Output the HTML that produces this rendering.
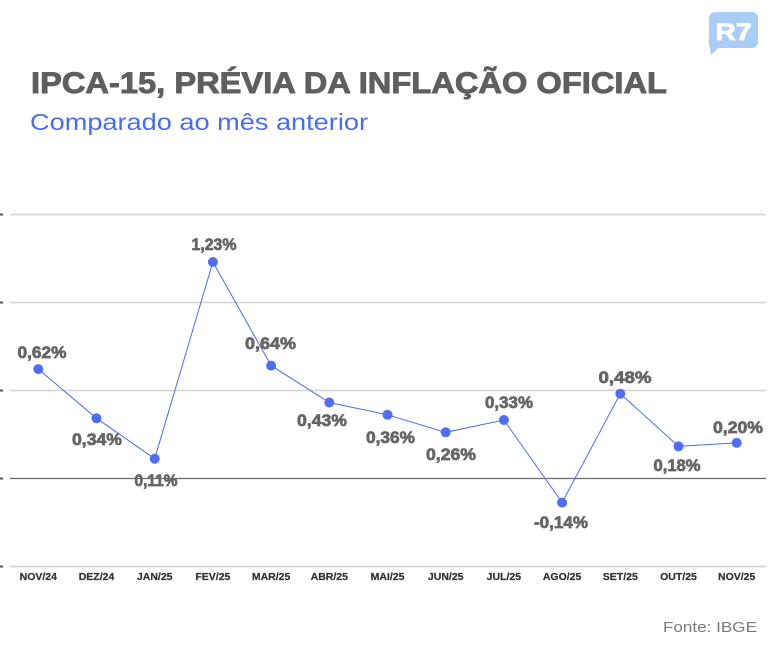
<!DOCTYPE html>
<html>
<head>
<meta charset="utf-8">
<style>
  html,body{margin:0;padding:0;background:#fff;}
  body{width:770px;height:650px;overflow:hidden;}
  svg{display:block;}
</style>
</head>
<body>
<svg width="770" height="650" viewBox="0 0 770 650" xmlns="http://www.w3.org/2000/svg">
  <rect width="770" height="650" fill="#ffffff"/>

  <!-- Logo -->
  <path d="M716 12 H751 Q758 12 758 19 V41 Q758 48 751 48 H718 L711 55 L710 48 Q709 47 709 41 V19 Q709 12 716 12 Z" fill="#a9cdf8"/>
  <text x="733.5" y="40" text-anchor="middle" font-family="Liberation Sans, sans-serif" font-weight="bold" font-size="24" fill="#ffffff" stroke="#ffffff" stroke-width="0.8" textLength="36" lengthAdjust="spacingAndGlyphs">R7</text>

  <!-- Title -->
  <text x="31" y="93" font-family="Liberation Sans, sans-serif" font-weight="bold" font-size="29.5" fill="#5f5f5f" stroke="#5f5f5f" stroke-width="0.9" textLength="636" lengthAdjust="spacingAndGlyphs">IPCA-15, PRÉVIA DA INFLAÇÃO OFICIAL</text>
  <text x="30" y="130" font-family="Liberation Sans, sans-serif" font-size="23" fill="#4a6cf0" textLength="338" lengthAdjust="spacingAndGlyphs">Comparado ao mês anterior</text>

  <!-- Gridlines -->
  <line x1="10" y1="214.5" x2="766" y2="214.5" stroke="#dcdcdc" stroke-width="2"/>
  <line x1="10" y1="302.5" x2="766" y2="302.5" stroke="#d2d2d2" stroke-width="1.5"/>
  <line x1="10" y1="390.5" x2="766" y2="390.5" stroke="#d2d2d2" stroke-width="1.5"/>
  <line x1="10" y1="478.5" x2="766" y2="478.5" stroke="#6a6a6a" stroke-width="1.2"/>
  <line x1="10" y1="566.5" x2="766" y2="566.5" stroke="#cfcfcf" stroke-width="1.5"/>

  <!-- left tick marks -->
  <rect x="0" y="213.5" width="3" height="2" fill="#555"/>
  <rect x="0" y="301.5" width="3" height="2" fill="#555"/>
  <rect x="0" y="389.5" width="3" height="2" fill="#555"/>
  <rect x="0" y="477.5" width="3" height="2" fill="#555"/>
  <rect x="0" y="565.5" width="3" height="2" fill="#555"/>

  <!-- Series line -->
  <polyline fill="none" stroke="#4a6cf0" stroke-width="1"
    points="38.3,369.1 96.5,418.3 154.7,458.7 212.9,262 271.1,365.6 329.3,402.5 387.5,414.8 445.7,432.3 503.9,420 562.1,502.6 620.3,393.7 678.5,446.4 736.7,442.9"/>

  <!-- Markers -->
  <g fill="#4f6ef7">
    <circle cx="38.3" cy="369.1" r="5"/>
    <circle cx="96.5" cy="418.3" r="5"/>
    <circle cx="154.7" cy="458.7" r="5"/>
    <circle cx="212.9" cy="262" r="5"/>
    <circle cx="271.1" cy="365.6" r="5"/>
    <circle cx="329.3" cy="402.5" r="5"/>
    <circle cx="387.5" cy="414.8" r="5"/>
    <circle cx="445.7" cy="432.3" r="5"/>
    <circle cx="503.9" cy="420" r="5"/>
    <circle cx="562.1" cy="502.6" r="5"/>
    <circle cx="620.3" cy="393.7" r="5"/>
    <circle cx="678.5" cy="446.4" r="5"/>
    <circle cx="736.7" cy="442.9" r="5"/>
  </g>

  <!-- Data labels -->
  <g font-family="Liberation Sans, sans-serif" font-weight="bold" font-size="16.5" fill="#666666" stroke="#666666" stroke-width="0.7" text-anchor="middle">
    <text x="42" y="358" textLength="49" lengthAdjust="spacingAndGlyphs">0,62%</text>
    <text x="97" y="445" textLength="50" lengthAdjust="spacingAndGlyphs">0,34%</text>
    <text x="156" y="486" textLength="43" lengthAdjust="spacingAndGlyphs">0,11%</text>
    <text x="214" y="250" textLength="45" lengthAdjust="spacingAndGlyphs">1,23%</text>
    <text x="270.5" y="349" textLength="51" lengthAdjust="spacingAndGlyphs">0,64%</text>
    <text x="322" y="426" textLength="50" lengthAdjust="spacingAndGlyphs">0,43%</text>
    <text x="390.5" y="443" textLength="49" lengthAdjust="spacingAndGlyphs">0,36%</text>
    <text x="451" y="460" textLength="50" lengthAdjust="spacingAndGlyphs">0,26%</text>
    <text x="509" y="408" textLength="48" lengthAdjust="spacingAndGlyphs">0,33%</text>
    <text x="561" y="528" textLength="54" lengthAdjust="spacingAndGlyphs">-0,14%</text>
    <text x="625" y="383" textLength="53" lengthAdjust="spacingAndGlyphs">0,48%</text>
    <text x="677" y="471" textLength="47" lengthAdjust="spacingAndGlyphs">0,18%</text>
    <text x="738" y="433" textLength="50" lengthAdjust="spacingAndGlyphs">0,20%</text>
  </g>

  <!-- X axis labels -->
  <g font-family="Liberation Sans, sans-serif" font-weight="bold" font-size="10.5" fill="#333333" stroke="#333333" stroke-width="0.25" text-anchor="middle">
    <text x="38.3" y="580">NOV/24</text>
    <text x="96.5" y="580">DEZ/24</text>
    <text x="154.7" y="580">JAN/25</text>
    <text x="212.9" y="580">FEV/25</text>
    <text x="271.1" y="580">MAR/25</text>
    <text x="329.3" y="580">ABR/25</text>
    <text x="387.5" y="580">MAI/25</text>
    <text x="445.7" y="580">JUN/25</text>
    <text x="503.9" y="580">JUL/25</text>
    <text x="562.1" y="580">AGO/25</text>
    <text x="620.3" y="580">SET/25</text>
    <text x="678.5" y="580">OUT/25</text>
    <text x="736.7" y="580">NOV/25</text>
  </g>

  <!-- Footer -->
  <text x="663" y="632" font-family="Liberation Sans, sans-serif" font-size="15" fill="#7a7a7a" textLength="94" lengthAdjust="spacingAndGlyphs">Fonte: IBGE</text>
</svg>
</body>
</html>
